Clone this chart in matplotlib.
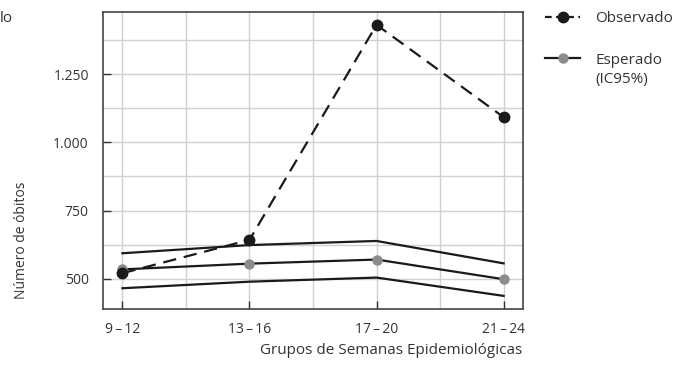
import matplotlib
matplotlib.use('Agg')
import matplotlib.pyplot as plt
from matplotlib.lines import Line2D
from matplotlib.ticker import FuncFormatter, MultipleLocator

plt.rcParams['font.family'] = ['Open Sans', 'DejaVu Sans']

grupos = ['9\u2009–\u200912', '13\u2009–\u200916', '17\u2009–\u200920', '21\u2009–\u200924']
observado = [521, 643, 1430, 1092]
esperado = [535, 556, 571, 499]
ic_sup = [594, 624, 639, 557]
ic_inf = [466, 490, 505, 438]

txt = '#333333'
linha = '#1a1a1a'
cinza = '#8c8c8c'

fig = plt.figure(figsize=(6.83, 3.88), dpi=100)
ax = fig.add_axes([0.1504, 0.2036, 0.6149, 0.7655])

x = list(range(len(grupos)))
ax.plot(x, ic_sup, color=linha, lw=1.6, zorder=3)
ax.plot(x, ic_inf, color=linha, lw=1.6, zorder=3)
ax.plot(x, esperado, color=linha, lw=1.6, marker='o', ms=6.5,
        mfc=cinza, mec=cinza, zorder=4)
ax.plot(x, observado, color=linha, lw=1.6, ls=(0, (6, 3.5)), marker='o',
        ms=7.5, mfc=linha, mec=linha, zorder=5)

ax.set_xlim(-0.155, 3.15)
ax.set_ylim(390, 1477)
ax.set_xticks(x)
ax.set_xticklabels(grupos)
ax.set_yticks([500, 750, 1000, 1250])
ax.yaxis.set_major_formatter(FuncFormatter(lambda v, p: '{:,.0f}'.format(v).replace(',', '.')))
ax.xaxis.set_minor_locator(MultipleLocator(0.5))
ax.yaxis.set_minor_locator(MultipleLocator(125))
ax.grid(True, which='both', color='#d0d0d0', lw=1, zorder=0)
ax.tick_params(which='major', direction='in', length=6, width=1, color='#333333',
               labelsize=10, labelcolor=txt)
ax.tick_params(axis='y', pad=10)
ax.tick_params(axis='x', pad=9)
ax.tick_params(which='minor', length=0)
for s in ax.spines.values():
    s.set_color('#444444')
    s.set_linewidth(1.2)

fig.text(22 / 683, 1 - 240 / 388, 'Número de óbitos', rotation=90, ha='center',
         va='center', fontsize=10, color=txt)
fig.text(391 / 683, 1 - 351 / 388, 'Grupos de Semanas Epidemiológicas', ha='center',
         va='center', fontsize=11, color=txt)
fig.text(0, 1 - 18 / 388, 'lo', ha='left', va='center', fontsize=11, color=txt)

h_obs = Line2D([], [], color=linha, lw=1.6, ls=(0, (3, 2)), marker='o', ms=7.5,
               mfc=linha, mec=linha)
h_esp = Line2D([], [], color=linha, lw=1.6, marker='o', ms=6.5, mfc=cinza, mec=cinza)
leg_kw = dict(frameon=False, fontsize=11, handlelength=2.3, handletextpad=1.0,
              borderpad=0, borderaxespad=0, labelcolor=txt)
leg1 = fig.legend([h_obs], ['Observado'], loc='center left',
                  bbox_to_anchor=(545 / 683, 1 - 18.5 / 388), **leg_kw)
leg2 = fig.legend([h_esp], ['Esperado'], loc='center left',
                  bbox_to_anchor=(545 / 683, 1 - 60 / 388), **leg_kw)
fig.text(595 / 683, 1 - 80 / 388, '(IC95%)', ha='left', va='center', fontsize=11,
         color=txt)

fig.savefig('out.png', dpi=100)
